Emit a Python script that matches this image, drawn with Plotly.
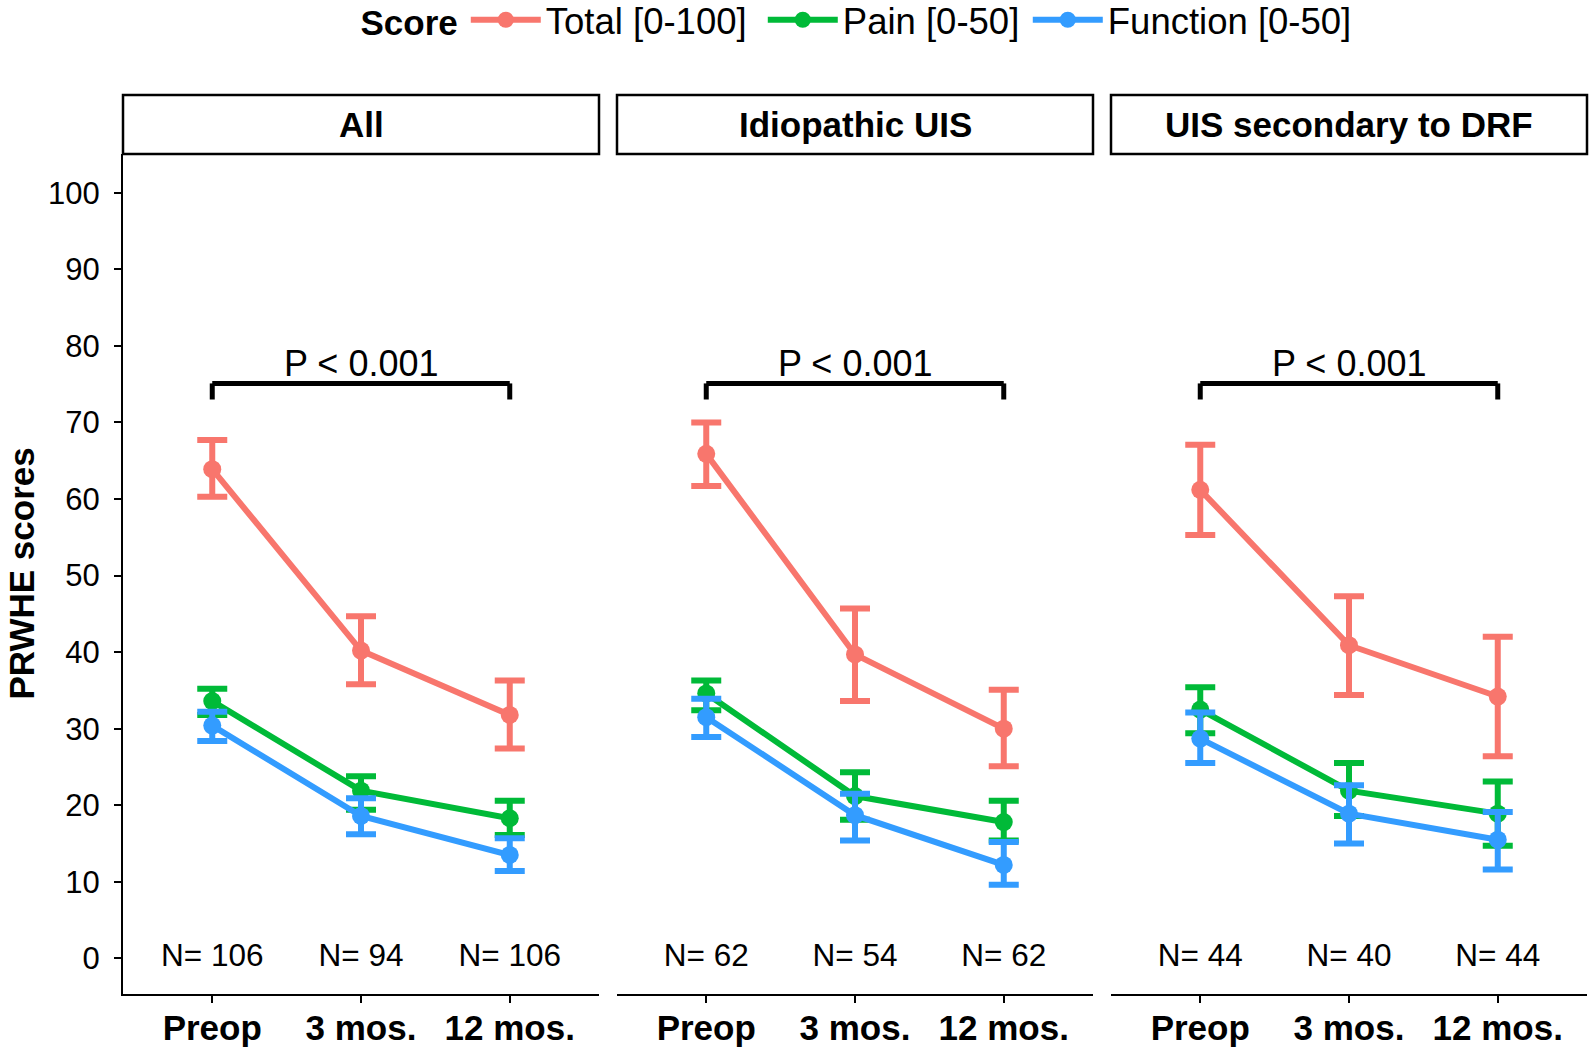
import plotly.graph_objects as go

groups = ["All", "Idiopathic UIS", "UIS secondary to DRF"]
timepoints = ["Preop", "3 mos.", "12 mos."]
series_names = ["Total [0-100]", "Pain [0-50]", "Function [0-50]"]
n_labels = [["N= 106", "N= 94", "N= 106"],
            ["N= 62", "N= 54", "N= 62"],
            ["N= 44", "N= 40", "N= 44"]]
p_labels = ["P < 0.001", "P < 0.001", "P < 0.001"]

# mean, upper and lower CI per group (All, Idiopathic, DRF) per timepoint
total_mean = [[63.9, 40.2, 31.8], [65.9, 39.7, 30.0], [61.2, 40.9, 34.2]]
total_upper = [[67.7, 44.7, 36.3], [70.0, 45.7, 35.1], [67.1, 47.3, 42.0]]
total_lower = [[60.3, 35.8, 27.4], [61.7, 33.6, 25.1], [55.3, 34.4, 26.4]]
pain_mean = [[33.6, 21.9, 18.3], [34.6, 21.2, 17.8], [32.5, 21.9, 18.9]]
pain_upper = [[35.2, 23.8, 20.6], [36.3, 24.3, 20.6], [35.4, 25.5, 23.1]]
pain_lower = [[31.8, 19.4, 16.1], [32.4, 18.1, 15.4], [29.4, 18.6, 14.7]]
func_mean = [[30.4, 18.6, 13.5], [31.5, 18.7, 12.2], [28.7, 18.9, 15.5]]
func_upper = [[32.2, 20.9, 15.7], [33.9, 21.5, 15.2], [32.1, 22.6, 19.1]]
func_lower = [[28.4, 16.2, 11.4], [28.9, 15.4, 9.6], [25.5, 15.0, 11.6]]

y_ticks = [0, 10, 20, 30, 40, 50, 60, 70, 80, 90, 100]
bracket_top = 75.1
bracket_foot = 73.0
p_label_y = 77.7

colors = ["#F8766D", "#00BA38", "#339CFF"]
legend_widths = [212, 180, 238]
FONT = "Liberation Sans, Arial, sans-serif"

series = [
    (total_mean, total_upper, total_lower),
    (pain_mean, pain_upper, pain_lower),
    (func_mean, func_upper, func_lower),
]

fig = go.Figure()

W, H = 1594, 1048
ML, MR, MT, MB = 123, 7, 154, 54
plot_w = W - ML - MR
plot_h = H - MT - MB
panel_px = [(123, 599), (617, 1093), (1111, 1587)]
domains = [[(a - ML) / plot_w, (b - ML) / plot_w] for a, b in panel_px]

for p in range(3):
    xa = "x" if p == 0 else f"x{p+1}"
    ya = "y" if p == 0 else f"y{p+1}"
    for s, (m, u, l) in enumerate(series):
        mean = m[p]
        plus = [hi - mv for hi, mv in zip(u[p], mean)]
        minus = [mv - lo for lo, mv in zip(l[p], mean)]
        fig.add_trace(go.Scatter(
            x=timepoints, y=mean, mode="lines+markers",
            name=series_names[s], legendgroup=series_names[s],
            showlegend=(p == 0), legendwidth=legend_widths[s],
            line=dict(color=colors[s], width=6),
            marker=dict(color=colors[s], size=18),
            error_y=dict(type="data", array=plus, arrayminus=minus,
                         color=colors[s], thickness=6, width=15),
            xaxis=xa, yaxis=ya, hoverinfo="skip",
        ))
    # N labels
    fig.add_trace(go.Scatter(
        x=timepoints, y=[0, 0, 0], mode="text", text=n_labels[p],
        textfont=dict(family=FONT, size=31.5, color="black"),
        textposition="middle center", showlegend=False,
        xaxis=xa, yaxis=ya, hoverinfo="skip",
    ))

shapes = []
annotations = []
strip_h = 59 / plot_h
for p in range(3):
    xa = "x" if p == 0 else f"x{p+1}"
    ya = "y" if p == 0 else f"y{p+1}"
    # bracket
    for (x0, y0, x1, y1) in [
        (timepoints[0], bracket_foot, timepoints[0], bracket_top),
        (timepoints[0], bracket_top, timepoints[2], bracket_top),
        (timepoints[2], bracket_top, timepoints[2], bracket_foot),
    ]:
        shapes.append(dict(type="line", xref=xa, yref=ya, x0=x0, y0=y0,
                           x1=x1, y1=y1, line=dict(color="black", width=5)))
    annotations.append(dict(xref=xa, yref=ya, x=timepoints[1], y=p_label_y,
                            text=p_labels[p], showarrow=False,
                            font=dict(family=FONT, size=36, color="black"),
                            xanchor="center", yanchor="middle"))
    # strip
    shapes.append(dict(type="rect", xref=f"{xa} domain", yref=f"{ya} domain",
                       x0=0, x1=1, y0=1, y1=1 + strip_h,
                       line=dict(color="black", width=2.5),
                       fillcolor="white", layer="above"))
    annotations.append(dict(xref=f"{xa} domain", yref=f"{ya} domain",
                            x=0.5, y=1 + strip_h / 2,
                            text=f"<b>{groups[p]}</b>", showarrow=False,
                            font=dict(family=FONT, size=35, color="black"),
                            xanchor="center", yanchor="middle"))

annotations.append(dict(xref="paper", yref="paper", x=(20.5 - ML) / plot_w,
                        y=0.5, text="<b>PRWHE scores</b>", textangle=-90,
                        showarrow=False, xanchor="center", yanchor="middle",
                        font=dict(family=FONT, size=35, color="black")))

legend_center_y = 20
layout = dict(
    width=W, height=H,
    margin=dict(l=ML, r=MR, t=MT, b=MB, autoexpand=False),
    plot_bgcolor="white", paper_bgcolor="white",
    font=dict(family=FONT, color="black"),
    shapes=shapes, annotations=annotations,
    legend=dict(orientation="h", x=0.5, xanchor="center",
                yref="paper", y=1 + (MT - legend_center_y) / plot_h,
                yanchor="middle", entrywidthmode="pixels",
                itemwidth=70,
                font=dict(family=FONT, size=36.5, color="black"),
                title=dict(text="<b>Score</b>", font=dict(family=FONT, size=35)),
                bgcolor="rgba(0,0,0,0)"),
)
for p in range(3):
    xk = "xaxis" if p == 0 else f"xaxis{p+1}"
    yk = "yaxis" if p == 0 else f"yaxis{p+1}"
    layout[xk] = dict(
        domain=domains[p], type="category", categoryorder="array",
        categoryarray=timepoints, range=[-0.6, 2.6],
        anchor="y" if p == 0 else f"y{p+1}", automargin=False,
        showline=True, linecolor="black", linewidth=2.2,
        ticks="outside", ticklen=7, tickwidth=2, tickcolor="black",
        showgrid=False, zeroline=False, ticklabelstandoff=-5,
        tickfont=dict(family=FONT, size=35, color="black"),
        tickprefix="<b>", ticksuffix="</b>",
    )
    layout[yk] = dict(
        domain=[0, 1], range=[-4.66, 105.07],
        anchor="x" if p == 0 else f"x{p+1}", automargin=False,
        showgrid=False, zeroline=False,
        showline=(p == 0), linecolor="black", linewidth=2.2,
        ticks="outside" if p == 0 else "", ticklen=7, tickwidth=2,
        tickcolor="black", tickvals=y_ticks,
        showticklabels=(p == 0), ticklabelstandoff=8,
        tickfont=dict(family=FONT, size=31, color="black"),
    )
    if p > 0:
        layout[yk]["matches"] = "y"

fig.update_layout(**layout)
fig.write_html(
    "out.html",
    config={"displayModeBar": False},
    post_script="document.body.style.margin='0';document.body.style.padding='0';",
)
